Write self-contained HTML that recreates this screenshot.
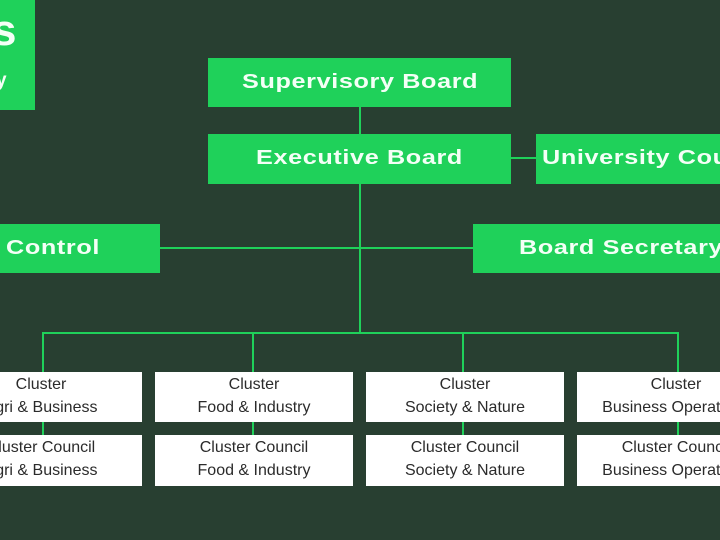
<!DOCTYPE html>
<html><head><meta charset="utf-8"><style>
html,body{margin:0;padding:0}
body{width:720px;height:540px;background:#283f31;position:relative;overflow:hidden;font-family:"Liberation Sans",sans-serif}
.g{position:absolute;background:#1fd15a;color:#f4fff6;font-weight:bold;font-size:20px;letter-spacing:0.5px;white-space:nowrap;line-height:50px;overflow:hidden}
.g span{position:absolute;top:0;transform:scaleX(1.26);transform-origin:0 0}
.l{position:absolute;background:#1fd15a}
.w{position:absolute;background:#fff;color:#2b2b2b;font-size:16px;line-height:23px;text-align:center;white-space:nowrap;padding-top:1px;box-sizing:border-box;overflow:hidden}
.w div{position:absolute;top:1px;width:198px;text-align:center}
</style></head><body>
<div class="g" style="left:0;top:0;width:35px;height:110px;line-height:normal">
<span style="left:-8px;top:6px;font-size:44px;letter-spacing:0;transform:none">s</span>
<span style="left:-4px;top:70px;font-size:19px;letter-spacing:0;transform:none">y</span></div>

<div class="l" style="left:359px;top:107px;width:2px;height:226px"></div>
<div class="l" style="left:511px;top:157px;width:25px;height:2px"></div>
<div class="l" style="left:160px;top:247px;width:313px;height:2px"></div>
<div class="l" style="left:43px;top:332px;width:636px;height:2px"></div>
<div class="l" style="left:42px;top:332px;width:2px;height:105px"></div>
<div class="l" style="left:252px;top:332px;width:2px;height:105px"></div>
<div class="l" style="left:462px;top:332px;width:2px;height:105px"></div>
<div class="l" style="left:677px;top:332px;width:2px;height:105px"></div>

<div class="g" style="left:208px;top:58px;width:303px;height:49px;line-height:49px"><span style="left:34px">Supervisory Board</span></div>
<div class="g" style="left:208px;top:134px;width:303px;height:50px;line-height:49px"><span style="left:48px">Executive Board</span></div>
<div class="g" style="left:536px;top:134px;width:184px;height:50px;line-height:49px"><span style="left:6px">University Council</span></div>
<div class="g" style="left:0;top:224px;width:160px;height:49px;line-height:49px"><span style="left:6px">Control</span></div>
<div class="g" style="left:473px;top:224px;width:247px;height:49px;line-height:49px"><span style="left:46px">Board Secretary</span></div>

<div class="w" style="left:0;top:372px;width:142px;height:50px"><div style="left:-58px">Cluster<br>Agri &amp; Business</div></div>
<div class="w" style="left:155px;top:372px;width:198px;height:50px">Cluster<br>Food &amp; Industry</div>
<div class="w" style="left:366px;top:372px;width:198px;height:50px">Cluster<br>Society &amp; Nature</div>
<div class="w" style="left:577px;top:372px;width:143px;height:50px"><div style="left:0">Cluster<br>Business Operations</div></div>
<div class="w" style="left:0;top:435px;width:142px;height:51px"><div style="left:-58px">Cluster Council<br>Agri &amp; Business</div></div>
<div class="w" style="left:155px;top:435px;width:198px;height:51px">Cluster Council<br>Food &amp; Industry</div>
<div class="w" style="left:366px;top:435px;width:198px;height:51px">Cluster Council<br>Society &amp; Nature</div>
<div class="w" style="left:577px;top:435px;width:143px;height:51px"><div style="left:0">Cluster Council<br>Business Operations</div></div>
</body></html>
